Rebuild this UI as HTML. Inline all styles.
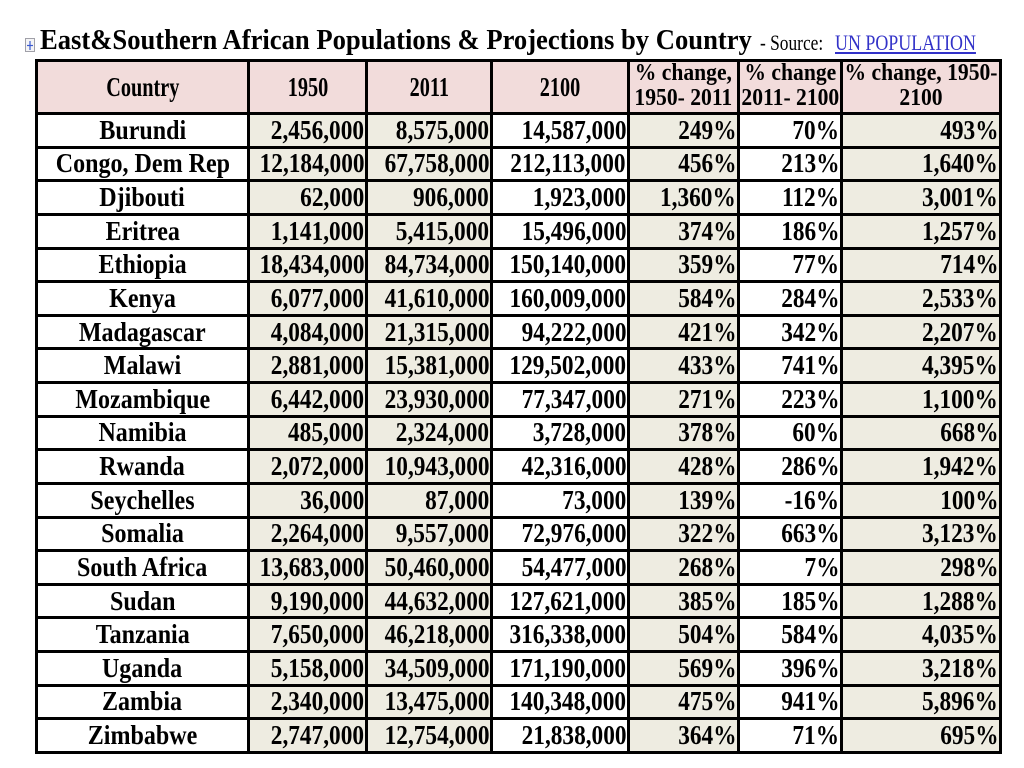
<!DOCTYPE html>
<html>
<head>
<meta charset="utf-8">
<style>
  html,body{margin:0;padding:0;}
  body{width:1024px;height:768px;background:#fff;position:relative;overflow:hidden;font-family:"Liberation Serif","Times New Roman",serif;color:#000;}
  .title{position:absolute;left:40px;top:27px;font-size:28px;line-height:28px;font-weight:bold;white-space:nowrap;transform:scaleX(0.95);transform-origin:0 50%;}
  .src{position:absolute;left:760px;top:32px;font-size:22px;line-height:22px;white-space:nowrap;transform:scaleX(0.79);transform-origin:0 50%;}
  .lnk{position:absolute;left:835px;top:32px;font-size:22px;line-height:22px;white-space:nowrap;color:#3232c8;text-decoration:underline;transform:scaleX(0.815);transform-origin:0 50%;}
  .icon{position:absolute;left:24px;top:37px;}
  .t{position:absolute;left:35px;top:59px;width:961px;display:grid;
     grid-template-columns:209px 115px 122px 134px 107px 100px 156px;
     grid-template-rows:50px repeat(19,30.63px);gap:3px;padding:3px;background:#000;}
  .t>div{display:flex;align-items:center;white-space:nowrap;font-weight:bold;font-size:27px;line-height:27px;overflow:visible;}
  .h{background:#f2dcdb;justify-content:center;}
  .w{background:#fff;}
  .b{background:#eeece1;}
  .m{justify-content:center;}
  .r{justify-content:flex-end;padding-right:1px;}
  .t span{display:inline-block;}
  .m span{transform:scaleX(0.89);transform-origin:50% 50%;}
  .r span{transform:scaleX(0.863);transform-origin:100% 50%;}
  .h1 span{font-size:27px;transform:scaleX(0.75);transform-origin:50% 50%;}
  .h2 span{font-size:24px;line-height:25px;text-align:center;transform:scaleX(0.9);transform-origin:50% 50%;position:relative;top:-1px;}
</style>
</head>
<body>
<svg class="icon" width="13" height="17" viewBox="0 0 13 17">
  <rect x="1.5" y="1.5" width="9" height="13" fill="#f4f4f6" stroke="#a0a0a8" stroke-width="1"/>
  <line x1="6" y1="4" x2="6" y2="13" stroke="#3a5ad0" stroke-width="1.2"/>
  <line x1="3" y1="8.5" x2="9" y2="8.5" stroke="#3a5ad0" stroke-width="1.2"/>
</svg>
<div class="title">East&amp;Southern African Populations &amp; Projections by Country</div>
<div class="src">- Source:</div>
<div class="lnk">UN POPULATION</div>

<div class="t">
  <div class="h h1"><span>Country</span></div>
  <div class="h h1"><span>1950</span></div>
  <div class="h h1"><span>2011</span></div>
  <div class="h h1"><span>2100</span></div>
  <div class="h h2"><span>% change,<br>1950- 2011</span></div>
  <div class="h h2"><span>% change<br>2011- 2100</span></div>
  <div class="h h2"><span>% change, 1950-<br>2100</span></div>

  <div class="w m"><span>Burundi</span></div><div class="b r"><span>2,456,000</span></div><div class="b r"><span>8,575,000</span></div><div class="w r"><span>14,587,000</span></div><div class="b r"><span>249%</span></div><div class="w r"><span>70%</span></div><div class="b r"><span>493%</span></div>

  <div class="w m"><span>Congo, Dem Rep</span></div><div class="b r"><span>12,184,000</span></div><div class="b r"><span>67,758,000</span></div><div class="w r"><span>212,113,000</span></div><div class="b r"><span>456%</span></div><div class="w r"><span>213%</span></div><div class="b r"><span>1,640%</span></div>

  <div class="w m"><span>Djibouti</span></div><div class="b r"><span>62,000</span></div><div class="b r"><span>906,000</span></div><div class="w r"><span>1,923,000</span></div><div class="b r"><span>1,360%</span></div><div class="w r"><span>112%</span></div><div class="b r"><span>3,001%</span></div>

  <div class="w m"><span>Eritrea</span></div><div class="b r"><span>1,141,000</span></div><div class="b r"><span>5,415,000</span></div><div class="w r"><span>15,496,000</span></div><div class="b r"><span>374%</span></div><div class="w r"><span>186%</span></div><div class="b r"><span>1,257%</span></div>

  <div class="w m"><span>Ethiopia</span></div><div class="b r"><span>18,434,000</span></div><div class="b r"><span>84,734,000</span></div><div class="w r"><span>150,140,000</span></div><div class="b r"><span>359%</span></div><div class="w r"><span>77%</span></div><div class="b r"><span>714%</span></div>

  <div class="w m"><span>Kenya</span></div><div class="b r"><span>6,077,000</span></div><div class="b r"><span>41,610,000</span></div><div class="w r"><span>160,009,000</span></div><div class="b r"><span>584%</span></div><div class="w r"><span>284%</span></div><div class="b r"><span>2,533%</span></div>

  <div class="w m"><span>Madagascar</span></div><div class="b r"><span>4,084,000</span></div><div class="b r"><span>21,315,000</span></div><div class="w r"><span>94,222,000</span></div><div class="b r"><span>421%</span></div><div class="w r"><span>342%</span></div><div class="b r"><span>2,207%</span></div>

  <div class="w m"><span>Malawi</span></div><div class="b r"><span>2,881,000</span></div><div class="b r"><span>15,381,000</span></div><div class="w r"><span>129,502,000</span></div><div class="b r"><span>433%</span></div><div class="w r"><span>741%</span></div><div class="b r"><span>4,395%</span></div>

  <div class="w m"><span>Mozambique</span></div><div class="b r"><span>6,442,000</span></div><div class="b r"><span>23,930,000</span></div><div class="w r"><span>77,347,000</span></div><div class="b r"><span>271%</span></div><div class="w r"><span>223%</span></div><div class="b r"><span>1,100%</span></div>

  <div class="w m"><span>Namibia</span></div><div class="b r"><span>485,000</span></div><div class="b r"><span>2,324,000</span></div><div class="w r"><span>3,728,000</span></div><div class="b r"><span>378%</span></div><div class="w r"><span>60%</span></div><div class="b r"><span>668%</span></div>

  <div class="w m"><span>Rwanda</span></div><div class="b r"><span>2,072,000</span></div><div class="b r"><span>10,943,000</span></div><div class="w r"><span>42,316,000</span></div><div class="b r"><span>428%</span></div><div class="w r"><span>286%</span></div><div class="b r"><span>1,942%</span></div>

  <div class="w m"><span>Seychelles</span></div><div class="b r"><span>36,000</span></div><div class="b r"><span>87,000</span></div><div class="w r"><span>73,000</span></div><div class="b r"><span>139%</span></div><div class="w r"><span>-16%</span></div><div class="b r"><span>100%</span></div>

  <div class="w m"><span>Somalia</span></div><div class="b r"><span>2,264,000</span></div><div class="b r"><span>9,557,000</span></div><div class="w r"><span>72,976,000</span></div><div class="b r"><span>322%</span></div><div class="w r"><span>663%</span></div><div class="b r"><span>3,123%</span></div>

  <div class="w m"><span>South Africa</span></div><div class="b r"><span>13,683,000</span></div><div class="b r"><span>50,460,000</span></div><div class="w r"><span>54,477,000</span></div><div class="b r"><span>268%</span></div><div class="w r"><span>7%</span></div><div class="b r"><span>298%</span></div>

  <div class="w m"><span>Sudan</span></div><div class="b r"><span>9,190,000</span></div><div class="b r"><span>44,632,000</span></div><div class="w r"><span>127,621,000</span></div><div class="b r"><span>385%</span></div><div class="w r"><span>185%</span></div><div class="b r"><span>1,288%</span></div>

  <div class="w m"><span>Tanzania</span></div><div class="b r"><span>7,650,000</span></div><div class="b r"><span>46,218,000</span></div><div class="w r"><span>316,338,000</span></div><div class="b r"><span>504%</span></div><div class="w r"><span>584%</span></div><div class="b r"><span>4,035%</span></div>

  <div class="w m"><span>Uganda</span></div><div class="b r"><span>5,158,000</span></div><div class="b r"><span>34,509,000</span></div><div class="w r"><span>171,190,000</span></div><div class="b r"><span>569%</span></div><div class="w r"><span>396%</span></div><div class="b r"><span>3,218%</span></div>

  <div class="w m"><span>Zambia</span></div><div class="b r"><span>2,340,000</span></div><div class="b r"><span>13,475,000</span></div><div class="w r"><span>140,348,000</span></div><div class="b r"><span>475%</span></div><div class="w r"><span>941%</span></div><div class="b r"><span>5,896%</span></div>

  <div class="w m"><span>Zimbabwe</span></div><div class="b r"><span>2,747,000</span></div><div class="b r"><span>12,754,000</span></div><div class="w r"><span>21,838,000</span></div><div class="b r"><span>364%</span></div><div class="w r"><span>71%</span></div><div class="b r"><span>695%</span></div>
</div>
</body>
</html>
